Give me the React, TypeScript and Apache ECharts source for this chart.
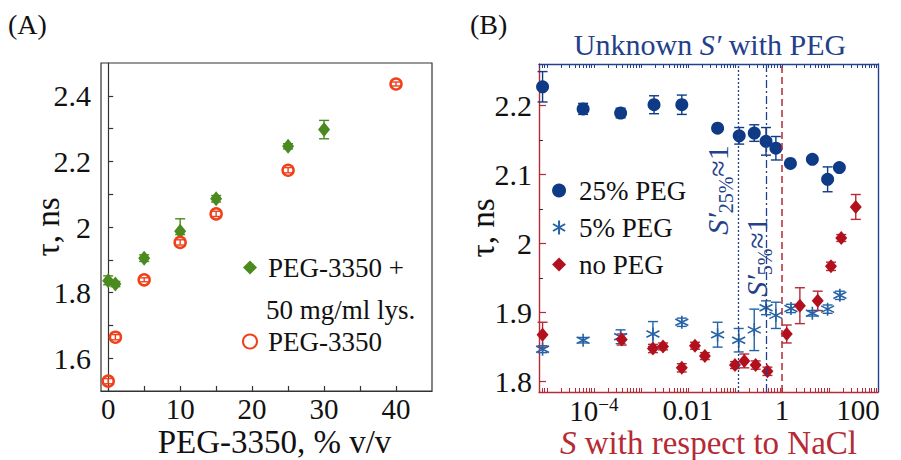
import React, { useEffect, useRef } from 'react';
import * as echarts from 'echarts';

// ---------- Panel A data ----------
const aLysX = [0, 1, 5, 10, 15, 25, 30];
const aLysY = [1.836, 1.826, 1.905, 1.987, 2.086, 2.246, 2.297];
const aLysLo = [0.012, 0.008, 0.01, 0.01, 0.01, 0.008, 0.028];
const aLysHi = [0.015, 0.008, 0.01, 0.038, 0.01, 0.008, 0.028];
const aPegX = [0, 1, 5, 10, 15, 25, 40];
const aPegY = [1.53, 1.664, 1.839, 1.953, 2.04, 2.173, 2.436];
const aPegErr = [0.008, 0.008, 0.006, 0.008, 0.008, 0.008, 0.006];
const aXTicks = [0, 5, 10, 15, 20, 25, 30, 35, 40];
const aXLabels = [0, 10, 20, 30, 40];
const aYTicks = [1.6, 1.7, 1.8, 1.9, 2.0, 2.1, 2.2, 2.3, 2.4];
const aYLabels = [1.6, 1.8, 2.0, 2.2, 2.4];

// ---------- Panel B data ----------
const b25X = [8.1e-6, 5.9e-5, 3.7e-4, 1.9e-3, 7.4e-3, 0.0427, 0.123, 0.257, 0.457, 0.741, 1.51, 4.42, 9.33, 16.6];
const b25Y = [2.227, 2.195, 2.189, 2.201, 2.201, 2.167, 2.156, 2.16, 2.148, 2.138, 2.116, 2.122, 2.093, 2.11];
const b25Err = [0.022, 0.008, 0.007, 0.013, 0.014, 0.004, 0.012, 0.012, 0.02, 0.017, 0.004, 0.004, 0.018, 0.004];
const b5X = [8.1e-6, 5.9e-5, 3.7e-4, 1.8e-3, 7.4e-3, 0.0427, 0.12, 0.257, 0.457, 0.741, 1.55, 4.42, 9.33, 17.0];
const b5Y = [1.847, 1.86, 1.865, 1.869, 1.886, 1.868, 1.86, 1.875, 1.907, 1.896, 1.906, 1.899, 1.905, 1.925];
const b5Err = [0.005, 0.004, 0.01, 0.018, 0.006, 0.018, 0.017, 0.03, 0.01, 0.019, 0.006, 0.004, 0.006, 0.006];
const bNoX = [8.1e-6, 3.9e-4, 1.8e-3, 2.95e-3, 7.4e-3, 0.0141, 0.0229, 0.1, 0.158, 0.275, 0.49, 1.26, 2.4, 5.75, 11.0, 18.2, 37.0];
const bNoY = [1.868, 1.861, 1.848, 1.851, 1.82, 1.852, 1.837, 1.824, 1.83, 1.824, 1.815, 1.869, 1.91, 1.917, 1.967, 2.008, 2.053];
const bNoErr = [0.018, 0.008, 0.006, 0.005, 0.006, 0.005, 0.005, 0.005, 0.01, 0.006, 0.006, 0.013, 0.026, 0.014, 0.006, 0.005, 0.018];
const bXLabels = [1e-4, 0.01, 1, 100];
const bYLabels = [1.8, 1.9, 2.0, 2.1, 2.2];
const bYMinor = [1.85, 1.95, 2.05, 2.15, 2.25];
const bSLine25 = 0.117;
const bSLine5 = 0.47;
const bSLineNaCl = 1;

const FONT = '"Liberation Serif", "Times New Roman", serif';
const GREEN = '#4b8a1e';
const ORANGE = '#f0401a';
const NAVY = '#0e3a86';
const BLUE = '#2563a6';
const RED = '#b3101e';
const RED_AX = '#b52a35';
const NAVY_AX = '#23408a';

const ASTERISK = 'path://M0,-10L0,10M-8.66,-5L8.66,5M-8.66,5L8.66,-5';

function logTicks(): number[] {
  const out: number[] = [];
  for (let e = -6; e <= 2; e++) {
    for (let k = 1; k <= 9; k++) out.push(+(k * Math.pow(10, e)).toPrecision(3));
  }
  return out;
}
const bXTicks = logTicks();

function errSeries(name: string, xi: number, yi: number, xs: number[], ys: number[], lo: number[], hi: number[], color: string, cap: number) {
  return {
    type: 'custom',
    name,
    xAxisIndex: xi,
    yAxisIndex: yi,
    z: 2,
    silent: true,
    clip: false,
    data: xs.map((x, i) => [x, ys[i], lo[i], hi[i]]),
    encode: { x: 0, y: 1 },
    renderItem: (_p: any, api: any) => {
      const x = api.value(0);
      const y = api.value(1);
      const t = api.coord([x, y + api.value(3)]);
      const b = api.coord([x, y - api.value(2)]);
      const style = { stroke: color, lineWidth: 1.4, fill: null };
      return {
        type: 'group',
        children: [
          { type: 'line', shape: { x1: t[0], y1: t[1], x2: b[0], y2: b[1] }, style },
          { type: 'line', shape: { x1: t[0] - cap, y1: t[1], x2: t[0] + cap, y2: t[1] }, style },
          { type: 'line', shape: { x1: b[0] - cap, y1: b[1], x2: b[0] + cap, y2: b[1] }, style },
        ],
      };
    },
  };
}

const fmt1 = (v: number) => String(+(+v).toFixed(1));

function rotLabel(sub: string, x: number, y: number) {
  return {
    type: 'text', x, y, rotation: Math.PI / 2,
    style: {
      text: '{i|S′}{s|' + sub + '}{n|≈1}', align: 'center', verticalAlign: 'middle',
      rich: {
        i: { fontSize: 30, fontFamily: FONT, fontStyle: 'italic', fill: NAVY_AX, lineHeight: 38, verticalAlign: 'middle' },
        s: { fontSize: 20, fontFamily: FONT, fill: NAVY_AX, lineHeight: 38, verticalAlign: 'bottom' },
        n: { fontSize: 30, fontFamily: FONT, fill: NAVY_AX, lineHeight: 38, verticalAlign: 'middle' },
      },
    },
  };
}

function bLabelFmt(v: number): string {
  if (v < 0.001) return '{b|10}{s|−4}';
  if (v >= 100) return '{r|' + String(v) + '}';
  return String(v);
}

function buildOption(): any {
  const txt = { fontFamily: FONT, color: '#111' };
  return {
    animation: false,
    backgroundColor: '#fff',
    grid: [
      { left: 101, top: 63, width: 331, height: 328, show: true, borderColor: '#333', borderWidth: 1.2, backgroundColor: 'transparent', outerBoundsMode: 'none' },
      { left: 539, top: 64, width: 339, height: 328, show: false, outerBoundsMode: 'none' },
    ],
    xAxis: [
      {
        gridIndex: 0, type: 'value', min: -1, max: 45,
        axisLine: { show: true, lineStyle: { color: '#333', width: 1.2 } },
        axisTick: { show: true, inside: true, length: 5, customValues: aXTicks, lineStyle: { color: '#333', width: 1.2 } },
        axisLabel: { customValues: aXLabels, fontSize: 29, margin: 3, ...txt },
        splitLine: { show: false },
        name: 'PEG-3350, % v/v', nameLocation: 'middle', nameGap: 34, nameMoveOverlap: false,
        nameTextStyle: { fontSize: 33, padding: [0, 0, 0, 16], ...txt },
      },
      {
        gridIndex: 1, type: 'log', min: 6.8e-6, max: 110, position: 'bottom',
        axisLine: { show: true, lineStyle: { color: RED_AX, width: 1.4 } },
        axisTick: { show: true, inside: true, length: 4, customValues: bXTicks, lineStyle: { color: RED_AX, width: 1 } },
        axisLabel: {
          customValues: bXLabels, fontSize: 29, margin: 3, ...txt,
          formatter: bLabelFmt,
          rich: {
            b: { fontSize: 29, fontFamily: FONT, color: '#111', verticalAlign: 'bottom', lineHeight: 30 },
            s: { fontSize: 19, fontFamily: FONT, color: '#111', verticalAlign: 'top', lineHeight: 30 },
            r: { fontSize: 29, fontFamily: FONT, color: '#111', padding: [0, 36, 0, 0] },
          },
        },
        splitLine: { show: false },
        name: '{i|S}{n| with respect to NaCl}', nameLocation: 'middle', nameGap: 34, nameMoveOverlap: false,
        nameTextStyle: {
          rich: {
            i: { fontSize: 33, fontStyle: 'italic', fontFamily: FONT, color: RED_AX },
            n: { fontSize: 33, fontFamily: FONT, color: RED_AX },
          },
        },
      },
      {
        gridIndex: 1, type: 'log', min: 6.8e-6, max: 110, position: 'top',
        axisLine: { show: true, lineStyle: { color: NAVY_AX, width: 1.4 } },
        axisTick: { show: true, inside: true, length: 4, customValues: bXTicks, lineStyle: { color: NAVY_AX, width: 1 } },
        axisLabel: { show: false },
        splitLine: { show: false },
      },
    ],
    yAxis: [
      {
        gridIndex: 0, type: 'value', min: 1.5, max: 2.5,
        axisLine: { show: true, lineStyle: { color: '#333', width: 1.2 } },
        axisTick: { show: true, inside: true, length: 5, customValues: aYTicks, lineStyle: { color: '#333', width: 1.2 } },
        axisLabel: { customValues: aYLabels, fontSize: 30, margin: 10, formatter: fmt1, ...txt },
        splitLine: { show: false },
        name: 'τ, ns', nameLocation: 'middle', nameGap: 37, nameMoveOverlap: false,
        nameTextStyle: { fontSize: 33, ...txt },
      },
      {
        gridIndex: 1, type: 'value', min: 1.785, max: 2.26, position: 'left',
        axisLine: { show: true, lineStyle: { color: RED_AX, width: 1.4 } },
        axisTick: { show: true, inside: true, length: 7, customValues: bYLabels, lineStyle: { color: RED_AX, width: 1.2 } },
        axisLabel: { customValues: bYLabels, fontSize: 30, margin: 7, formatter: fmt1, ...txt },
        splitLine: { show: false },
        name: 'τ, ns', nameLocation: 'middle', nameGap: 40, nameMoveOverlap: false,
        nameTextStyle: { fontSize: 33, ...txt },
      },
      {
        gridIndex: 1, type: 'value', min: 1.785, max: 2.26, position: 'left',
        axisLine: { show: false },
        axisTick: { show: true, inside: true, length: 4, customValues: bYMinor, lineStyle: { color: '#333', width: 1 } },
        axisLabel: { show: false },
        splitLine: { show: false },
      },
      {
        gridIndex: 1, type: 'value', min: 1.785, max: 2.26, position: 'right',
        axisLine: { show: true, lineStyle: { color: NAVY_AX, width: 1.4 } },
        axisTick: { show: false },
        axisLabel: { show: false },
        splitLine: { show: false },
      },
    ],
    legend: [
      {
        data: ['PEG-3350 + 50 mg/ml lys.', 'PEG-3350'],
        orient: 'vertical', left: 237, top: 249, itemGap: 47, itemWidth: 14, itemHeight: 14,
        formatter: (n: string) => (n === 'PEG-3350' ? 'PEG-3350' : 'PEG-3350 +'),
        textStyle: { fontSize: 27, fontFamily: FONT, color: '#111', padding: [0, 0, 0, 6] },
        selectedMode: false,
      },
      {
        data: ['25% PEG', '5% PEG', 'no PEG'],
        orient: 'vertical', left: 547, top: 172, itemGap: 10, itemWidth: 14, itemHeight: 14,
        textStyle: { fontSize: 27, fontFamily: FONT, color: '#111', padding: [0, 0, 0, 8] },
        selectedMode: false,
      },
    ],
    graphic: [
      { type: 'text', left: 8, top: 10, style: { text: '(A)', fontSize: 28, fontFamily: FONT, fill: '#111' } },
      { type: 'text', left: 470, top: 10, style: { text: '(B)', fontSize: 28, fontFamily: FONT, fill: '#111' } },
      { type: 'text', x: 266, y: 310, style: { text: '50 mg/ml lys.', fontSize: 27, fontFamily: FONT, fill: '#111', verticalAlign: 'middle', align: 'left' } },
      {
        type: 'text', x: 710, y: 44,
        style: {
          text: '{n|Unknown }{i|S′}{n| with PEG}', align: 'center', verticalAlign: 'middle',
          rich: { n: { fontSize: 30, fontFamily: FONT, fill: NAVY_AX }, i: { fontSize: 30, fontFamily: FONT, fontStyle: 'italic', fill: NAVY_AX } },
        },
      },
      rotLabel('25%', 717, 190),
      rotLabel('5%', 756, 257),
    ],
    series: [
      errSeries('errLys', 0, 0, aLysX, aLysY, aLysLo, aLysHi, GREEN, 5),
      errSeries('errPeg', 0, 0, aPegX, aPegY, aPegErr, aPegErr, ORANGE, 4),
      {
        type: 'scatter', name: 'PEG-3350 + 50 mg/ml lys.', xAxisIndex: 0, yAxisIndex: 0, z: 3,
        symbol: 'diamond', symbolSize: [12, 15],
        itemStyle: { color: GREEN, opacity: 1 },
        data: aLysX.map((x, i) => [x, aLysY[i]]),
      },
      {
        type: 'scatter', name: 'PEG-3350', xAxisIndex: 0, yAxisIndex: 0, z: 3,
        symbol: 'circle', symbolSize: 11,
        itemStyle: { color: 'rgba(255,255,255,0)', borderColor: ORANGE, borderWidth: 2.5, opacity: 1 },
        data: aPegX.map((x, i) => [x, aPegY[i]]),
      },
      {
        ...errSeries('err25', 1, 1, b25X, b25Y, b25Err, b25Err, NAVY, 5),
        markLine: {
          silent: true, symbol: 'none', label: { show: false },
          data: [
            { xAxis: bSLine25, lineStyle: { color: NAVY_AX, width: 1.3, type: [2, 2] } },
            { xAxis: bSLine5, lineStyle: { color: NAVY_AX, width: 1.3, type: [8, 3, 2, 3] } },
            { xAxis: bSLineNaCl, lineStyle: { color: RED_AX, width: 1.5, type: [7, 4] } },
          ],
        },
      },
      errSeries('err5', 1, 1, b5X, b5Y, b5Err, b5Err, BLUE, 5),
      errSeries('errNo', 1, 1, bNoX, bNoY, bNoErr, bNoErr, RED_AX, 5),
      {
        type: 'scatter', name: '25% PEG', xAxisIndex: 1, yAxisIndex: 1, z: 3,
        symbol: 'circle', symbolSize: 13,
        itemStyle: { color: NAVY, opacity: 1 },
        data: b25X.map((x, i) => [x, b25Y[i]]),
      },
      {
        type: 'scatter', name: '5% PEG', xAxisIndex: 1, yAxisIndex: 1, z: 3,
        symbol: ASTERISK, symbolSize: 13,
        itemStyle: { color: 'rgba(0,0,0,0)', borderColor: BLUE, borderWidth: 1.6, opacity: 1 },
        data: b5X.map((x, i) => [x, b5Y[i]]),
      },
      {
        type: 'scatter', name: 'no PEG', xAxisIndex: 1, yAxisIndex: 1, z: 3,
        symbol: 'diamond', symbolSize: [12, 14],
        itemStyle: { color: RED, opacity: 1 },
        data: bNoX.map((x, i) => [x, bNoY[i]]),
      },
    ],
  };
}

export default function App() {
  const ref = useRef<HTMLDivElement>(null);
  useEffect(() => {
    if (!ref.current) return;
    const chart = echarts.init(ref.current, null, { renderer: 'svg' });
    chart.setOption(buildOption());
    return () => chart.dispose();
  }, []);
  return (
    <div
      ref={ref}
      style={{ position: 'fixed', left: 0, top: 0, width: 901, height: 460, background: '#fff' }}
    />
  );
}
